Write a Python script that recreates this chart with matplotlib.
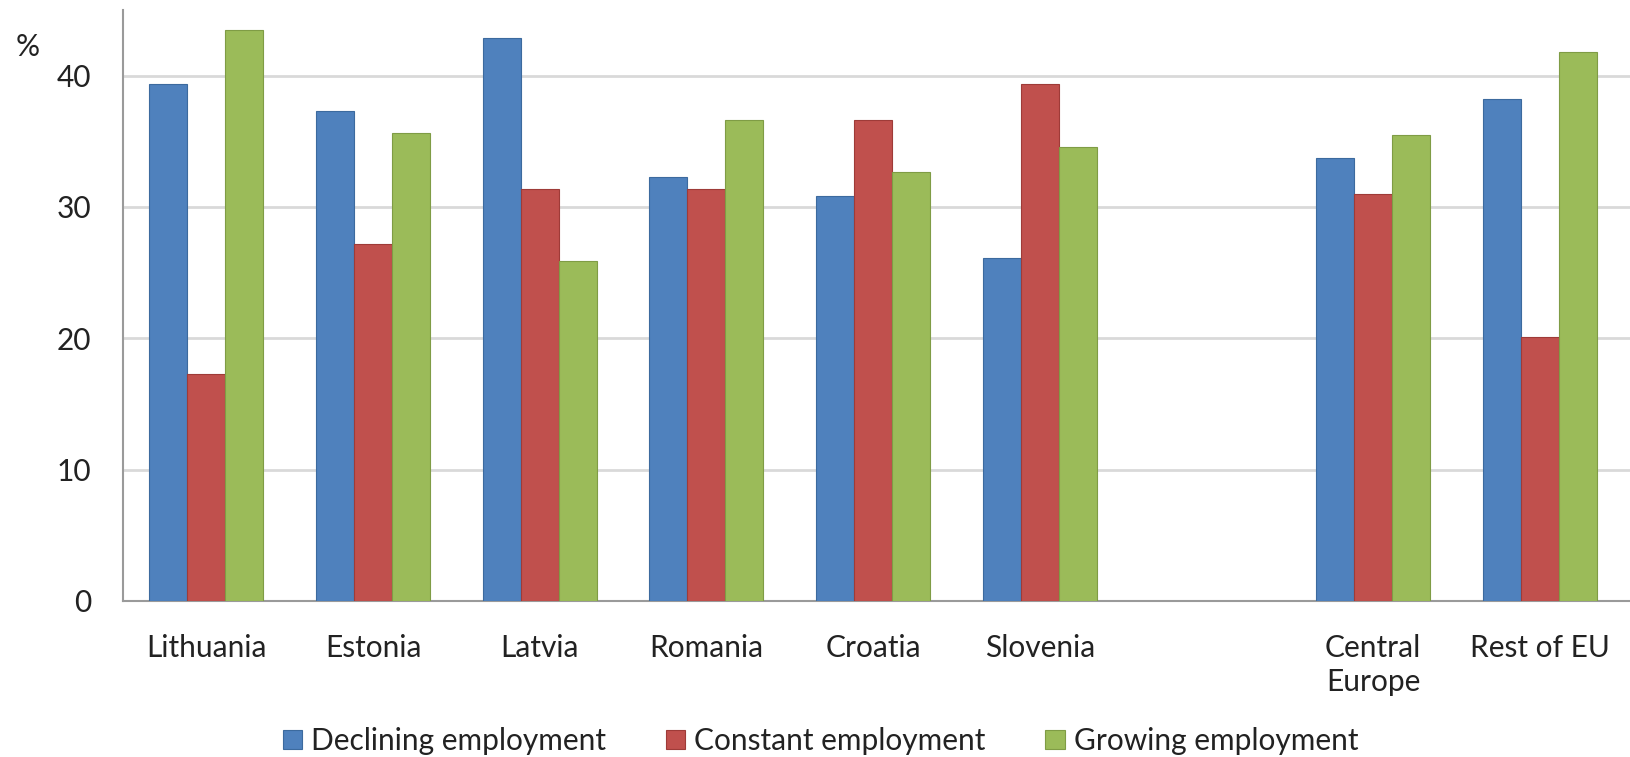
import matplotlib.pyplot as plt
import numpy as np

# data
countries = ["Lithuania", "Estonia", "Latvia", "Romania", "Croatia", "Slovenia",
             "", "Central\nEurope", "Rest of EU"]
declining = [39.4, 37.3, 42.9, 32.3, 30.8, 26.1, np.nan, 33.7, 38.2]
constant = [17.3, 27.2, 31.4, 31.4, 36.6, 39.4, np.nan, 31.0, 20.1]
growing = [43.5, 35.6, 25.9, 36.6, 32.7, 34.6, np.nan, 35.5, 41.8]

series = ["Declining employment", "Constant employment", "Growing employment"]
colors = ["#4F81BD", "#C0504D", "#9BBB59"]
edges = ["#3C6A9E", "#9E3B38", "#7F9C45"]

plt.rcParams["font.family"] = ["Lato", "DejaVu Sans"]
fs = 21.5

fig = plt.figure(figsize=(16.31, 7.57), dpi=100)
ax = fig.add_axes([123 / 1631, 1 - 601 / 757, (1631 - 123) / 1631, (601 - 10) / 757])

x = np.arange(len(countries))
w = 0.228
for i, (vals, name) in enumerate(zip([declining, constant, growing], series)):
    ax.bar(x + (i - 1) * w, vals, w, color=colors[i], edgecolor=edges[i],
           linewidth=0.8, label=name, zorder=3)

ax.set_xlim(-0.5, -0.5 + (1631 - 123) / 166.7)
ax.set_ylim(0, 45)
ax.set_yticks([0, 10, 20, 30, 40])
ax.set_xticks(x)
ax.set_xticklabels(countries, fontsize=fs, color="#222222", linespacing=1.25)
ax.tick_params(axis="both", length=0, labelsize=fs, colors="#222222")
ax.tick_params(axis="x", pad=24)
ax.tick_params(axis="y", pad=23)
ax.grid(axis="y", color="#D9D9D9", linewidth=2, zorder=0)

for s in ["top", "right"]:
    ax.spines[s].set_visible(False)
for s in ["left", "bottom"]:
    ax.spines[s].set_color("#9A9A9A")
    ax.spines[s].set_linewidth(1.5)

fig.text(28 / 1631, 1 - 47 / 757, "%", fontsize=fs, color="#222222", ha="center", va="center")

fig.legend(loc="center", bbox_to_anchor=(0.503, 1 - 741 / 757), ncol=3, frameon=False,
           fontsize=fs, handlelength=0.65, handleheight=0.65, columnspacing=2.0,
           handletextpad=0.3, labelcolor="#222222")

fig.savefig("out.png", dpi=100)
